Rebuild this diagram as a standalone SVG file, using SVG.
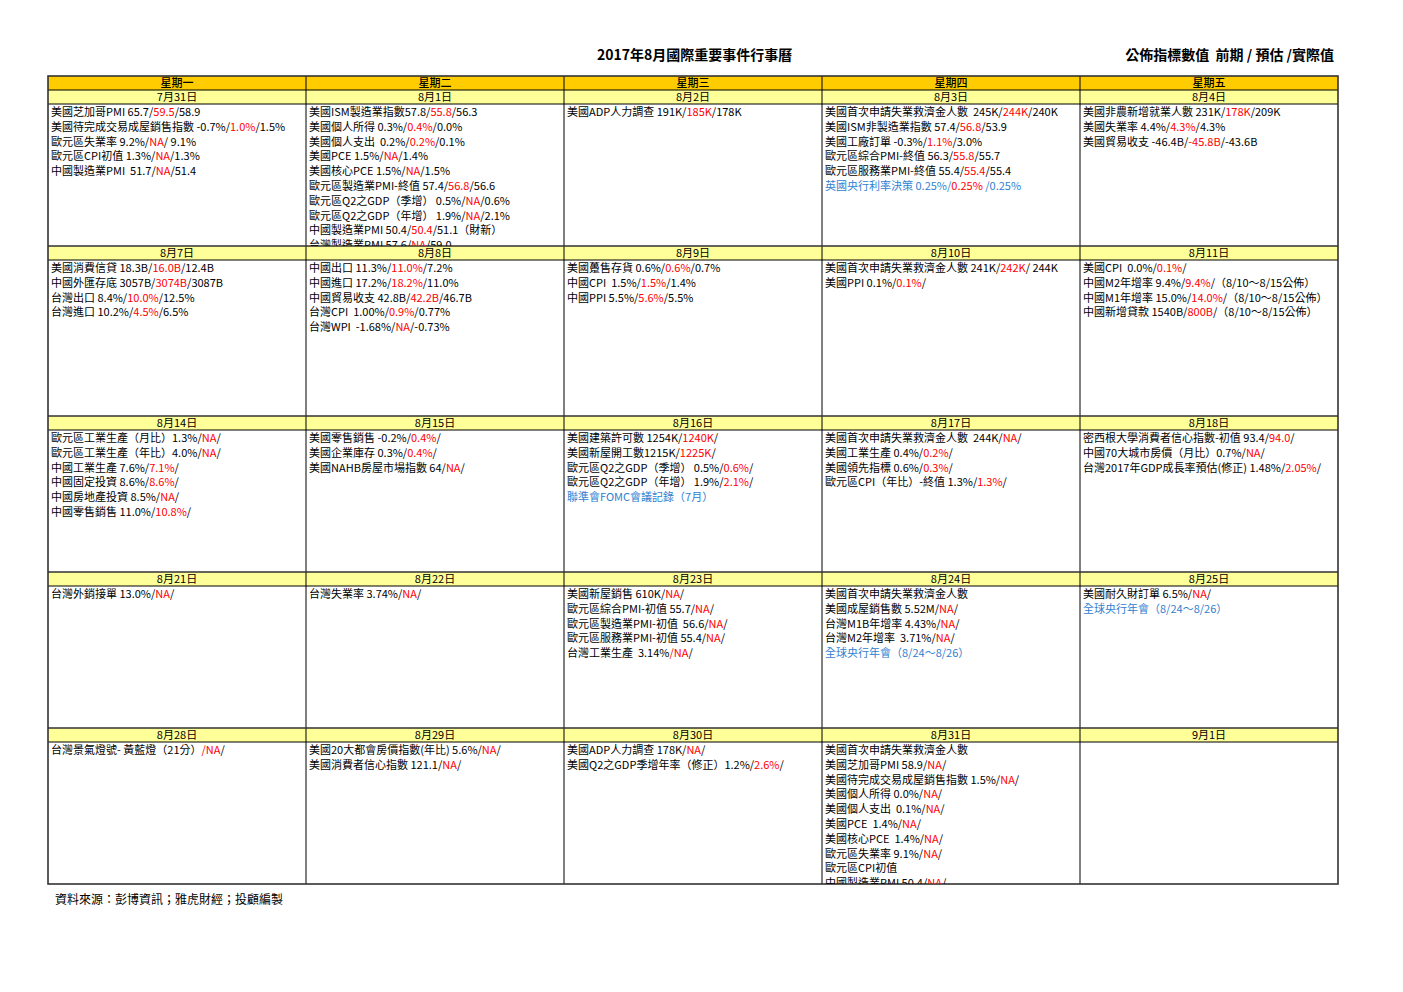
<svg xmlns="http://www.w3.org/2000/svg" width="1403" height="992" viewBox="0 0 1403 992">
<style>
text{font-family:"Noto Sans CJK TC","Noto Sans CJK JP",sans-serif;font-size:11px;fill:#000;white-space:pre}
.h{text-anchor:middle}
.wk{font-weight:500}
.r{fill:#FF0000}
.b{fill:#2F80D1}
.ttl{font-size:14px;font-weight:bold}
.ft{font-size:12px}
.hd{fill:#FFCC00}
.dt{fill:#FFFF99}
.gl{stroke:#000;stroke-width:1;fill:none}
.gh{stroke:#333;stroke-width:1.6;fill:none}
</style>
<defs>
<clipPath id="c81"><rect x="306" y="104" width="258" height="142"/></clipPath>
<clipPath id="c831"><rect x="822" y="742" width="258" height="142"/></clipPath>
</defs>
<rect width="1403" height="992" fill="#fff"/>
<g id="title">
<text class="ttl" x="597" y="60">2017年8月國際重要事件行事曆</text>
<text class="ttl" x="1334" y="60" text-anchor="end">公佈指標數值  前期 / 預估 /實際值</text>
</g>
<g id="fills">
<rect class="hd" x="48" y="76" width="1290" height="14"/>
<rect class="dt" x="48" y="90" width="1290" height="14"/>
<rect class="dt" x="48" y="246" width="1290" height="14"/>
<rect class="dt" x="48" y="416" width="1290" height="14"/>
<rect class="dt" x="48" y="572" width="1290" height="14"/>
<rect class="dt" x="48" y="728" width="1290" height="14"/>
</g>
<g id="connectors">
<path class="gl" d="M306,76V884M564,76V884M822,76V884M1080,76V884M48,90H1338M48,104H1338M48,260H1338M48,430H1338M48,586H1338M48,742H1338"/>
<path class="gh" d="M48,246H1338M48,416H1338M48,572H1338M48,728H1338"/>
<rect class="gh" x="48" y="76" width="1290" height="808"/>
</g>
<g id="weekdays">
<text class="h wk" x="177" y="87">星期一</text>
<text class="h wk" x="435" y="87">星期二</text>
<text class="h wk" x="693" y="87">星期三</text>
<text class="h wk" x="951" y="87">星期四</text>
<text class="h wk" x="1209" y="87">星期五</text>
</g>
<g id="dates">
<text class="h" x="177" y="101">7月31日</text>
<text class="h" x="435" y="101">8月1日</text>
<text class="h" x="693" y="101">8月2日</text>
<text class="h" x="951" y="101">8月3日</text>
<text class="h" x="1209" y="101">8月4日</text>
<text class="h" x="177" y="257">8月7日</text>
<text class="h" x="435" y="257">8月8日</text>
<text class="h" x="693" y="257">8月9日</text>
<text class="h" x="951" y="257">8月10日</text>
<text class="h" x="1209" y="257">8月11日</text>
<text class="h" x="177" y="427">8月14日</text>
<text class="h" x="435" y="427">8月15日</text>
<text class="h" x="693" y="427">8月16日</text>
<text class="h" x="951" y="427">8月17日</text>
<text class="h" x="1209" y="427">8月18日</text>
<text class="h" x="177" y="583">8月21日</text>
<text class="h" x="435" y="583">8月22日</text>
<text class="h" x="693" y="583">8月23日</text>
<text class="h" x="951" y="583">8月24日</text>
<text class="h" x="1209" y="583">8月25日</text>
<text class="h" x="177" y="739">8月28日</text>
<text class="h" x="435" y="739">8月29日</text>
<text class="h" x="693" y="739">8月30日</text>
<text class="h" x="951" y="739">8月31日</text>
<text class="h" x="1209" y="739">9月1日</text>
</g>
<g id="d0731">
<text x="51" y="116">美國芝加哥PMI 65.7/<tspan class="r">59.5</tspan>/58.9</text>
<text x="51" y="130.8">美國待完成交易成屋銷售指數 -0.7%/<tspan class="r">1.0%</tspan>/1.5%</text>
<text x="51" y="145.6">歐元區失業率 9.2%/<tspan class="r">NA</tspan>/ 9.1%</text>
<text x="51" y="160.4">歐元區CPI初值 1.3%/<tspan class="r">NA</tspan>/1.3%</text>
<text x="51" y="175.2">中國製造業PMI  51.7/<tspan class="r">NA</tspan>/51.4</text>
</g>
<g id="d0801" clip-path="url(#c81)">
<text x="309" y="116">美國ISM製造業指數57.8/<tspan class="r">55.8</tspan>/56.3</text>
<text x="309" y="130.8">美國個人所得 0.3%/<tspan class="r">0.4%</tspan>/0.0%</text>
<text x="309" y="145.6">美國個人支出  0.2%/<tspan class="r">0.2%</tspan>/0.1%</text>
<text x="309" y="160.4">美國PCE 1.5%/<tspan class="r">NA</tspan>/1.4%</text>
<text x="309" y="175.2">美國核心PCE 1.5%/<tspan class="r">NA</tspan>/1.5%</text>
<text x="309" y="190">歐元區製造業PMI-終值 57.4/<tspan class="r">56.8</tspan>/56.6</text>
<text x="309" y="204.8">歐元區Q2之GDP（季增） 0.5%/<tspan class="r">NA</tspan>/0.6%</text>
<text x="309" y="219.6">歐元區Q2之GDP（年增） 1.9%/<tspan class="r">NA</tspan>/2.1%</text>
<text x="309" y="234.4">中國製造業PMI 50.4/<tspan class="r">50.4</tspan>/51.1（財新）</text>
<text x="309" y="249.2">台灣製造業PMI 57.6/<tspan class="r">NA</tspan>/59.0</text>
</g>
<g id="d0802">
<text x="567" y="116">美國ADP人力調查 191K/<tspan class="r">185K</tspan>/178K</text>
</g>
<g id="d0803">
<text x="825" y="116">美國首次申請失業救濟金人數  245K/<tspan class="r">244K</tspan>/240K</text>
<text x="825" y="130.8">美國ISM非製造業指數 57.4/<tspan class="r">56.8</tspan>/53.9</text>
<text x="825" y="145.6">美國工廠訂單 -0.3%/<tspan class="r">1.1%</tspan>/3.0%</text>
<text x="825" y="160.4">歐元區綜合PMI-終值 56.3/<tspan class="r">55.8</tspan>/55.7</text>
<text x="825" y="175.2">歐元區服務業PMI-終值 55.4/<tspan class="r">55.4</tspan>/55.4</text>
<text x="825" y="190" class="b">英國央行利率決策 0.25%/<tspan class="r">0.25%</tspan> /0.25%</text>
</g>
<g id="d0804">
<text x="1083" y="116">美國非農新增就業人數 231K/<tspan class="r">178K</tspan>/209K</text>
<text x="1083" y="130.8">美國失業率 4.4%/<tspan class="r">4.3%</tspan>/4.3%</text>
<text x="1083" y="145.6">美國貿易收支 -46.4B/<tspan class="r">-45.8B</tspan>/-43.6B</text>
</g>
<g id="d0807">
<text x="51" y="272">美國消費信貸 18.3B/<tspan class="r">16.0B</tspan>/12.4B</text>
<text x="51" y="286.8">中國外匯存底 3057B/<tspan class="r">3074B</tspan>/3087B</text>
<text x="51" y="301.6">台灣出口 8.4%/<tspan class="r">10.0%</tspan>/12.5%</text>
<text x="51" y="316.4">台灣進口 10.2%/<tspan class="r">4.5%</tspan>/6.5%</text>
</g>
<g id="d0808">
<text x="309" y="272">中國出口 11.3%/<tspan class="r">11.0%</tspan>/7.2%</text>
<text x="309" y="286.8">中國進口 17.2%/<tspan class="r">18.2%</tspan>/11.0%</text>
<text x="309" y="301.6">中國貿易收支 42.8B/<tspan class="r">42.2B</tspan>/46.7B</text>
<text x="309" y="316.4">台灣CPI  1.00%/<tspan class="r">0.9%</tspan>/0.77%</text>
<text x="309" y="331.2">台灣WPI  -1.68%/<tspan class="r">NA</tspan>/-0.73%</text>
</g>
<g id="d0809">
<text x="567" y="272">美國躉售存貨 0.6%/<tspan class="r">0.6%</tspan>/0.7%</text>
<text x="567" y="286.8">中國CPI  1.5%/<tspan class="r">1.5%</tspan>/1.4%</text>
<text x="567" y="301.6">中國PPI 5.5%/<tspan class="r">5.6%</tspan>/5.5%</text>
</g>
<g id="d0810">
<text x="825" y="272">美國首次申請失業救濟金人數 241K/<tspan class="r">242K</tspan>/ 244K</text>
<text x="825" y="286.8">美國PPI 0.1%/<tspan class="r">0.1%</tspan>/</text>
</g>
<g id="d0811">
<text x="1083" y="272">美國CPI  0.0%/<tspan class="r">0.1%</tspan>/</text>
<text x="1083" y="286.8">中國M2年增率 9.4%/<tspan class="r">9.4%</tspan>/（8/10～8/15公佈）</text>
<text x="1083" y="301.6">中國M1年增率 15.0%/<tspan class="r">14.0%</tspan>/（8/10～8/15公佈）</text>
<text x="1083" y="316.4">中國新增貸款 1540B/<tspan class="r">800B</tspan>/（8/10～8/15公佈）</text>
</g>
<g id="d0814">
<text x="51" y="442">歐元區工業生產（月比）1.3%/<tspan class="r">NA</tspan>/</text>
<text x="51" y="456.8">歐元區工業生產（年比）4.0%/<tspan class="r">NA</tspan>/</text>
<text x="51" y="471.6">中國工業生產 7.6%/<tspan class="r">7.1%</tspan>/</text>
<text x="51" y="486.4">中國固定投資 8.6%/<tspan class="r">8.6%</tspan>/</text>
<text x="51" y="501.2">中國房地產投資 8.5%/<tspan class="r">NA</tspan>/</text>
<text x="51" y="516">中國零售銷售 11.0%/<tspan class="r">10.8%</tspan>/</text>
</g>
<g id="d0815">
<text x="309" y="442">美國零售銷售 -0.2%/<tspan class="r">0.4%</tspan>/</text>
<text x="309" y="456.8">美國企業庫存 0.3%/<tspan class="r">0.4%</tspan>/</text>
<text x="309" y="471.6">美國NAHB房屋市場指數 64/<tspan class="r">NA</tspan>/</text>
</g>
<g id="d0816">
<text x="567" y="442">美國建築許可數 1254K/<tspan class="r">1240K</tspan>/</text>
<text x="567" y="456.8">美國新屋開工數1215K/<tspan class="r">1225K</tspan>/</text>
<text x="567" y="471.6">歐元區Q2之GDP（季增） 0.5%/<tspan class="r">0.6%</tspan>/</text>
<text x="567" y="486.4">歐元區Q2之GDP（年增） 1.9%/<tspan class="r">2.1%</tspan>/</text>
<text x="567" y="501.2" class="b">聯準會FOMC會議記錄（7月）</text>
</g>
<g id="d0817">
<text x="825" y="442">美國首次申請失業救濟金人數  244K/<tspan class="r">NA</tspan>/</text>
<text x="825" y="456.8">美國工業生產 0.4%/<tspan class="r">0.2%</tspan>/</text>
<text x="825" y="471.6">美國領先指標 0.6%/<tspan class="r">0.3%</tspan>/</text>
<text x="825" y="486.4">歐元區CPI（年比）-終值 1.3%/<tspan class="r">1.3%</tspan>/</text>
</g>
<g id="d0818">
<text x="1083" y="442">密西根大學消費者信心指數-初值 93.4/<tspan class="r">94.0</tspan>/</text>
<text x="1083" y="456.8">中國70大城市房價（月比）0.7%/<tspan class="r">NA</tspan>/</text>
<text x="1083" y="471.6">台灣2017年GDP成長率預估(修正) 1.48%/<tspan class="r">2.05%</tspan>/</text>
</g>
<g id="d0821">
<text x="51" y="598">台灣外銷接單 13.0%/<tspan class="r">NA</tspan>/</text>
</g>
<g id="d0822">
<text x="309" y="598">台灣失業率 3.74%/<tspan class="r">NA</tspan>/</text>
</g>
<g id="d0823">
<text x="567" y="598">美國新屋銷售 610K/<tspan class="r">NA</tspan>/</text>
<text x="567" y="612.8">歐元區綜合PMI-初值 55.7/<tspan class="r">NA</tspan>/</text>
<text x="567" y="627.6">歐元區製造業PMI-初值  56.6/<tspan class="r">NA</tspan>/</text>
<text x="567" y="642.4">歐元區服務業PMI-初值 55.4/<tspan class="r">NA</tspan>/</text>
<text x="567" y="657.2">台灣工業生產  3.14%<tspan class="r">/NA</tspan>/</text>
</g>
<g id="d0824">
<text x="825" y="598">美國首次申請失業救濟金人數</text>
<text x="825" y="612.8">美國成屋銷售數 5.52M/<tspan class="r">NA</tspan>/</text>
<text x="825" y="627.6">台灣M1B年增率 4.43%/<tspan class="r">NA</tspan>/</text>
<text x="825" y="642.4">台灣M2年增率  3.71%/<tspan class="r">NA</tspan>/</text>
<text x="825" y="657.2" class="b">全球央行年會（8/24～8/26）</text>
</g>
<g id="d0825">
<text x="1083" y="598">美國耐久財訂單 6.5%/<tspan class="r">NA</tspan>/</text>
<text x="1083" y="612.8" class="b">全球央行年會（8/24～8/26）</text>
</g>
<g id="d0828">
<text x="51" y="754">台灣景氣燈號- 黃藍燈（21分）<tspan class="r">/NA</tspan>/</text>
</g>
<g id="d0829">
<text x="309" y="754">美國20大都會房價指數(年比) 5.6%/<tspan class="r">NA</tspan>/</text>
<text x="309" y="768.8">美國消費者信心指數 121.1/<tspan class="r">NA</tspan>/</text>
</g>
<g id="d0830">
<text x="567" y="754">美國ADP人力調查 178K/<tspan class="r">NA</tspan>/</text>
<text x="567" y="768.8">美國Q2之GDP季增年率（修正）1.2%/<tspan class="r">2.6%</tspan>/</text>
</g>
<g id="d0831" clip-path="url(#c831)">
<text x="825" y="754">美國首次申請失業救濟金人數</text>
<text x="825" y="768.8">美國芝加哥PMI 58.9/<tspan class="r">NA</tspan>/</text>
<text x="825" y="783.6">美國待完成交易成屋銷售指數 1.5%/<tspan class="r">NA</tspan>/</text>
<text x="825" y="798.4">美國個人所得 0.0%/<tspan class="r">NA</tspan>/</text>
<text x="825" y="813.2">美國個人支出  0.1%/<tspan class="r">NA</tspan>/</text>
<text x="825" y="828">美國PCE  1.4%/<tspan class="r">NA</tspan>/</text>
<text x="825" y="842.8">美國核心PCE  1.4%/<tspan class="r">NA</tspan>/</text>
<text x="825" y="857.6">歐元區失業率 9.1%/<tspan class="r">NA</tspan>/</text>
<text x="825" y="872.4">歐元區CPI初值</text>
<text x="825" y="887.2">中國製造業PMI 50.4/<tspan class="r">NA</tspan>/</text>
</g>
<g id="d0901"></g>
<g id="footer">
<text class="ft" x="55" y="904">資料來源：彭博資訊；雅虎財經；投顧編製</text>
</g>
</svg>
